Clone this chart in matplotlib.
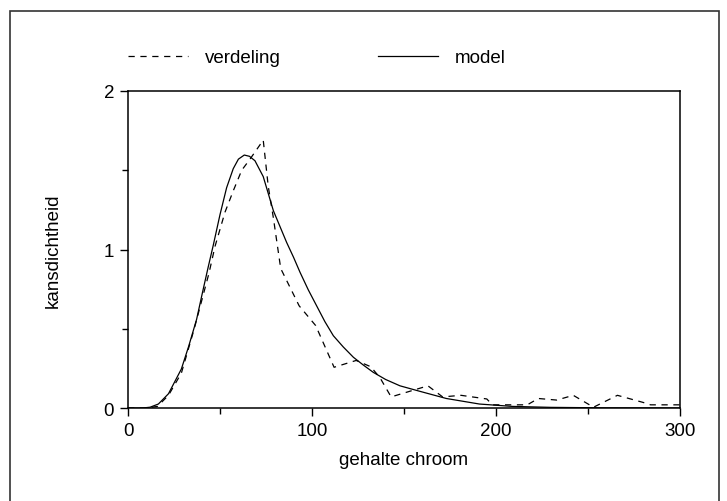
import matplotlib
matplotlib.use("Agg")
import matplotlib.pyplot as plt
from matplotlib.patches import Rectangle
from matplotlib.ticker import MultipleLocator

plt.rcParams['font.family'] = ['Liberation Sans', 'DejaVu Sans']

# verdeling (dashed frequency polygon)
verd_x = [0, 10, 16, 22, 29, 36, 44, 47.3, 52.7, 57.2, 61.8, 66.3, 73.5, 76.2, 79,
          83, 93, 102, 112, 124, 132, 137, 143, 163, 171, 181, 195, 198, 217, 223,
          233, 242, 253, 266, 280, 284, 300]
verd_y = [0, 0, 0.01, 0.08, 0.22, 0.5, 0.85, 1.02, 1.235, 1.37, 1.50, 1.57, 1.69,
          1.40, 1.2, 0.88, 0.645, 0.52, 0.257, 0.30, 0.26, 0.19, 0.07, 0.14, 0.07,
          0.08, 0.057, 0.02, 0.02, 0.06, 0.05, 0.08, 0.005, 0.08, 0.035, 0.02, 0.02]

# model (smooth curve)
model_x = [0, 8, 12, 16.5, 22, 29, 33, 37.3, 40.5, 43.6, 46.4, 50, 53.6, 57.2, 60,
           63.2, 66, 69, 73.5, 79, 86.2, 90, 93.5, 98, 102.5, 107, 111.6, 117,
           122.5, 128, 133.3, 140, 147.8, 158.7, 173, 191, 209, 230, 260, 300]
model_y = [0, 0, 0.005, 0.025, 0.09, 0.246, 0.39, 0.56, 0.73, 0.89, 1.03, 1.22,
           1.39, 1.51, 1.57, 1.596, 1.588, 1.56, 1.46, 1.245, 1.045, 0.95, 0.856,
           0.745, 0.645, 0.545, 0.456, 0.385, 0.32, 0.27, 0.225, 0.18, 0.14, 0.105,
           0.06, 0.025, 0.01, 0.004, 0.001, 0]

x_ticks = [0, 100, 200, 300]
y_ticks = [0, 1, 2]

fs = 13.5

fig = plt.figure(figsize=(7.27, 5.02), dpi=100)
ax = fig.add_axes([128 / 727, 1 - 409 / 502, 552 / 727, 317 / 502])

ax.plot(verd_x, verd_y, color='black', lw=0.9, linestyle=(0, (5, 4.5)), label='verdeling')
ax.plot(model_x, model_y, color='black', lw=0.9, label='model')

ax.set_xlim(0, 300)
ax.set_ylim(0, 2)
ax.set_xticks(x_ticks)
ax.set_yticks(y_ticks)
ax.set_yticklabels([str(v) for v in y_ticks])
ax.xaxis.set_minor_locator(MultipleLocator(50))
ax.yaxis.set_minor_locator(MultipleLocator(0.5))
ax.tick_params(which='major', direction='out', length=6, width=1, labelsize=fs, pad=4)
ax.tick_params(which='minor', direction='out', length=4, width=1)
for s in ax.spines.values():
    s.set_linewidth(1.1)

ax.set_xlabel('gehalte chroom', fontsize=fs, labelpad=9)
ax.set_ylabel('kansdichtheid', fontsize=fs, labelpad=30)

ax.legend(loc='center left', bbox_to_anchor=(0.0, 1.105), ncol=2, frameon=False,
          fontsize=fs, handlelength=3.2, handletextpad=0.9, columnspacing=5.2,
          borderpad=0, borderaxespad=0)

fig.add_artist(Rectangle((10 / 727, -0.02), 709 / 727, 1.02 - 12 / 502,
                         transform=fig.transFigure, fill=False, lw=1.2,
                         edgecolor='#333333'))

fig.savefig('out.png', dpi=100)
